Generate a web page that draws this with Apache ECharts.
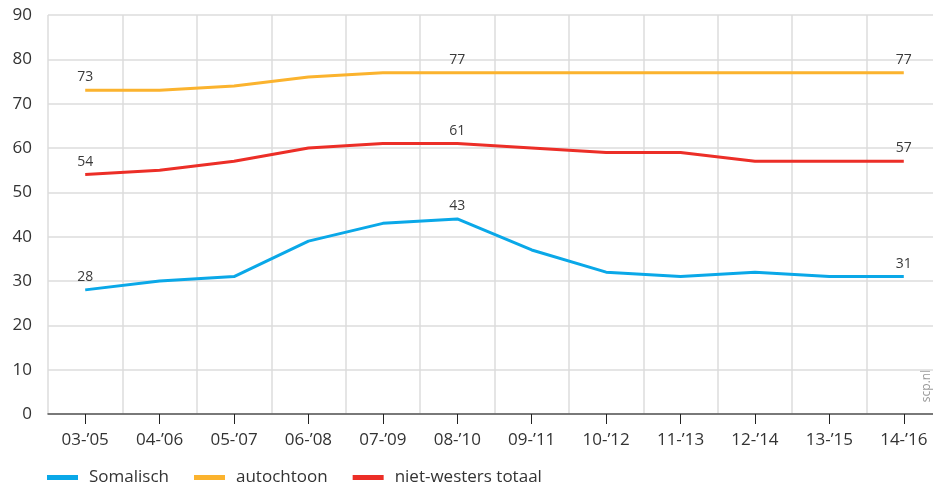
<!DOCTYPE html>
<html>
<head>
<meta charset="utf-8">
<script src="https://cdn.jsdelivr.net/npm/echarts@6/dist/echarts.min.js"></script>
<style>
  html, body { margin: 0; padding: 0; background: #fff; }
  #chart { width: 933px; height: 490px; }
</style>
</head>
<body>
<div id="chart"></div>
<script>
// periodes (schooljaren)
const categories = ["03-’05", "04-’06", "05-’07", "06-’08", "07-’09", "08-’10",
  "09-’11", "10-’12", "11-’13", "12-’14", "13-’15", "14-’16"];

const somalisch = [28, 30, 31, 39, 43, 44, 37, 32, 31, 32, 31, 31];
const autochtoon = [73, 73, 74, 76, 77, 77, 77, 77, 77, 77, 77, 77];
const nietWesters = [54, 55, 57, 60, 61, 61, 60, 59, 59, 57, 57, 57];

// alleen deze punten krijgen een label
const labelIndex = [0, 5, 11];
const somalischLabels = ["28", "43", "31"];
const autochtoonLabels = ["73", "77", "77"];
const nietWestersLabels = ["54", "61", "57"];

const yTicks = [0, 90, 10]; // min, max, interval

const font = "'Open Sans', 'Noto Sans', sans-serif";

// data met label op de gemarkeerde punten
function withLabels(values, labels) {
  return values.map((v, i) => {
    const k = labelIndex.indexOf(i);
    if (k === -1) return v;
    return { value: v, label: { show: true, formatter: labels[k] } };
  });
}

function lineSeries(name, values, labels, color) {
  return {
    name: name,
    type: 'line',
    data: withLabels(values, labels),
    symbol: 'circle',
    symbolSize: 0,
    showSymbol: true,
    lineStyle: { color: color, width: 3 },
    itemStyle: { color: color },
    label: {
      show: false,
      position: 'top',
      distance: 6,
      color: '#3a3a3a',
      fontFamily: font,
      fontSize: 14
    },
    emphasis: { disabled: true }
  };
}

const chart = echarts.init(document.getElementById('chart'));

chart.setOption({
  animation: false,
  textStyle: { fontFamily: font },
  // plot loopt iets voorbij de rechterrand
  grid: { left: 48, right: -8, top: 15, bottom: 76, containLabel: false, outerBoundsMode: 'none' },
  legend: {
    left: 47,
    top: 469,
    padding: 0,
    icon: 'rect',
    itemWidth: 31,
    itemHeight: 5,
    itemGap: 25,
    textStyle: { color: '#333', fontSize: 17, fontFamily: font, padding: [0, 0, 0, 6] },
    data: ['Somalisch', 'autochtoon', 'niet-westers totaal']
  },
  xAxis: {
    type: 'category',
    data: categories,
    boundaryGap: true,
    axisLine: { show: true, lineStyle: { color: '#555', width: 1.5 } },
    axisTick: { show: true, alignWithLabel: true, length: 10, lineStyle: { color: '#222', width: 1 } },
    axisLabel: { color: '#333', fontSize: 17, fontFamily: font, margin: 18 },
    splitLine: { show: true, lineStyle: { color: '#dcdcdc', width: 1.5 } }
  },
  yAxis: {
    type: 'value',
    min: yTicks[0],
    max: yTicks[1],
    interval: yTicks[2],
    axisLine: { show: false },
    axisTick: { show: false },
    axisLabel: { color: '#333', fontSize: 17, fontFamily: font, margin: 16 },
    splitLine: { show: true, lineStyle: { color: '#dcdcdc', width: 1.5 } }
  },
  graphic: [{
    type: 'text',
    x: 927,
    y: 386,
    rotation: Math.PI / 2,
    style: {
      text: 'scp.nl',
      fill: '#9a9a9a',
      font: "12px 'Open Sans', sans-serif",
      textAlign: 'center',
      textVerticalAlign: 'middle'
    }
  }],
  series: [
    lineSeries('Somalisch', somalisch, somalischLabels, '#0aa8e8'),
    lineSeries('autochtoon', autochtoon, autochtoonLabels, '#fbb32e'),
    lineSeries('niet-westers totaal', nietWesters, nietWestersLabels, '#ec2e27')
  ]
});
</script>
</body>
</html>
